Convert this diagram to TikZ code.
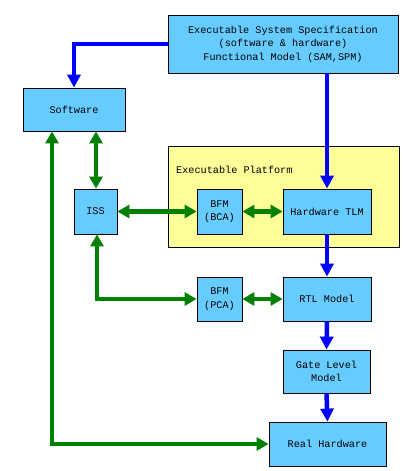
\documentclass[tikz,border=0pt]{standalone}
\usepackage{fontspec}
\setmainfont{Liberation Mono}
\usetikzlibrary{arrows.meta}
\definecolor{boxblue}{RGB}{102,204,255}
\definecolor{platyellow}{RGB}{255,255,153}
\definecolor{arrblue}{RGB}{0,0,255}
\definecolor{arrgreen}{RGB}{0,128,0}
\begin{document}
\begin{tikzpicture}[x=1pt,y=-1pt,
  blk/.style={draw=black,line width=0.8pt,fill=boxblue,inner sep=0pt,align=center,font=\fontsize{10.2}{13.5}\selectfont},
  barrow/.style={draw=arrblue,line width=4.5pt,-{Triangle[width=13pt,length=13pt]}},
  garrow/.style={draw=arrgreen,line width=4.5pt,{Triangle[width=13pt,length=12pt]}-{Triangle[width=13pt,length=12pt]}}]
\useasboundingbox (0,0) rectangle (404,471);
\fill[white] (0,0) rectangle (404,471);
\node[draw=black,line width=0.8pt,fill=platyellow,minimum width=231pt,minimum height=101pt,inner sep=0pt] (plat) at (283.5,196.5) {};
\node[anchor=west,font=\fontsize{10.2}{12}\selectfont,inner sep=0pt] (platlbl) at (176,170) {Executable Platform};
\node[blk,minimum width=230pt,minimum height=58pt] (spec) at (283,44) {Executable System Specification\\(software \& hardware)\\Functional Model (SAM,SPM)};
\node[blk,minimum width=102pt,minimum height=43pt] (sw) at (74,109.5) {Software};
\node[blk,minimum width=43pt,minimum height=45pt] (iss) at (95.5,211.5) {ISS};
\node[blk,minimum width=45pt,minimum height=45pt] (bca) at (219.5,211.5) {BFM\\(BCA)};
\node[blk,minimum width=88pt,minimum height=45pt] (tlm) at (327,211.5) {Hardware TLM};
\node[blk,minimum width=45pt,minimum height=44pt] (pca) at (219.5,299) {BFM\\(PCA)};
\node[blk,minimum width=88pt,minimum height=44pt] (rtl) at (327,299) {RTL Model};
\node[blk,minimum width=87pt,minimum height=43pt] (gate) at (326.5,371.5) {Gate Level\\Model};
\node[blk,minimum width=117pt,minimum height=44pt] (real) at (327.5,444) {Real Hardware};
% blue flow
\draw[barrow] (spec.west |- 0,44) -| (sw.north);
\draw[barrow] (spec.south -| tlm.north) -- (tlm.north);
\draw[barrow] (tlm.south) -- (rtl.north);
\draw[barrow] (rtl.south) -- (gate.north);
\draw[barrow] (gate.south) -- (real.north);
% green links
\draw[garrow] (sw.south -| 96,0) -- (iss.north -| 96,0);
\draw[garrow] (sw.south -| 52,0) |- (real.west);
\draw[garrow] (iss.east) -- (bca.west);
\draw[garrow] (bca.east) -- (tlm.west);
\draw[garrow] (iss.south -| 97,0) |- (pca.west);
\draw[garrow] (pca.east) -- (rtl.west);
\end{tikzpicture}
\end{document}
